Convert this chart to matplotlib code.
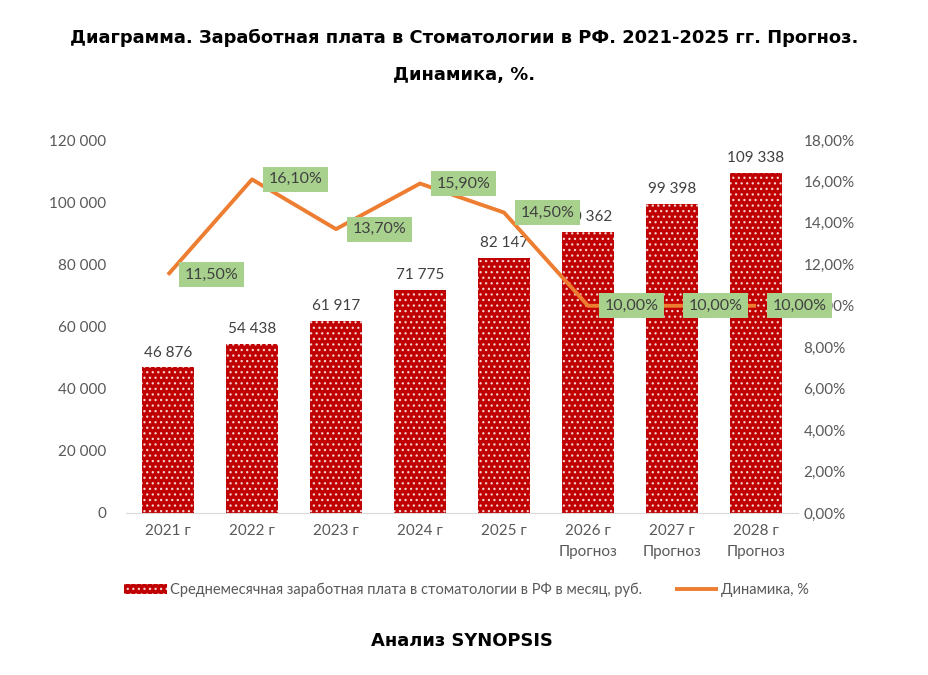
import matplotlib.pyplot as plt
import numpy as np

plt.rcParams['font.family'] = ['Lato', 'DejaVu Sans']
plt.rcParams['hatch.linewidth'] = 0.9

# data
years = ["2021 г", "2022 г", "2023 г", "2024 г", "2025 г",
         "2026 г\nПрогноз", "2027 г\nПрогноз", "2028 г\nПрогноз"]
salary = [46876, 54438, 61917, 71775, 82147, 90362, 99398, 109338]
growth = [11.5, 16.1, 13.7, 15.9, 14.5, 10.0, 10.0, 10.0]

bar_color = "#C00000"
line_color = "#ED7D31"
label_gray = "#595959"

fig = plt.figure(figsize=(9.29, 6.75), dpi=100)
ax = fig.add_axes([126 / 929, 1 - 513 / 675, 672 / 929, 373 / 675])

x = np.arange(len(years))
bars = ax.bar(x, salary, width=0.62, color=bar_color, edgecolor="#F4D0D0",
              linewidth=0, hatch="...", zorder=2,
              label="Среднемесячная заработная плата в стоматологии в РФ в месяц, руб.")

def fmt_num(v):
    return f"{v:,}".replace(",", " ")

for xi, v in zip(x, salary):
    ax.text(xi, v + 2500, fmt_num(v), ha="center", va="bottom",
            fontsize=11, color="#404040", zorder=3)

ax.set_xlim(-0.5, len(years) - 0.5)
ax.set_ylim(0, 120000)
ax.set_yticks(np.arange(0, 120001, 20000))
ax.set_yticklabels([fmt_num(v) for v in range(0, 120001, 20000)])
ax.set_xticks(x)
ax.set_xticklabels(years, linespacing=1.6)
ax.tick_params(axis="both", length=0, labelsize=11, labelcolor=label_gray)
ax.tick_params(axis="y", pad=14)
ax.tick_params(axis="x", pad=8)
for s in ["top", "right", "left"]:
    ax.spines[s].set_visible(False)
ax.spines["bottom"].set_color("#D9D9D9")

ax2 = ax.twinx()
line, = ax2.plot(x, growth, color=line_color, linewidth=2.8, zorder=4,
                 label="Динамика, %", solid_capstyle="butt")
ax2.set_ylim(0, 18)
ax2.set_yticks(np.arange(0, 18.01, 2))
ax2.set_yticklabels([f"{v:.2f}%".replace(".", ",") for v in np.arange(0, 18.01, 2)])
ax2.tick_params(axis="y", length=0, labelsize=11, labelcolor=label_gray, pad=4)
for s in ax2.spines.values():
    s.set_visible(False)

for xi, g in zip(x, growth):
    ax2.annotate(f"{g:.2f}%".replace(".", ","), (xi, g), xytext=(12, 0),
                 textcoords="offset points", ha="left", va="center",
                 fontsize=11.5, color="#404040", zorder=6,
                 bbox=dict(boxstyle="square,pad=0.35", fc="#A9D18E", ec="none"))

fig.legend(handles=[bars, line], loc="center", bbox_to_anchor=(0.502, 1 - 590 / 675),
           ncol=2, frameon=False, fontsize=10.5, labelcolor=label_gray,
           handlelength=3.0, handletextpad=0.2, columnspacing=2.2)

fig.text(0.5, 1 - 38 / 675, "Диаграмма. Заработная плата в Стоматологии в РФ. 2021-2025 гг. Прогноз.",
         ha="center", va="center", fontsize=12.9, fontweight="bold", family="DejaVu Sans")
fig.text(0.5, 1 - 75 / 675, "Динамика, %.", ha="center", va="center",
         fontsize=12.9, fontweight="bold", family="DejaVu Sans")
fig.text(0.497, 1 - 641 / 675, "Анализ SYNOPSIS", ha="center", va="center",
         fontsize=12.9, fontweight="bold", family="DejaVu Sans")

fig.savefig("out.png", dpi=100)
